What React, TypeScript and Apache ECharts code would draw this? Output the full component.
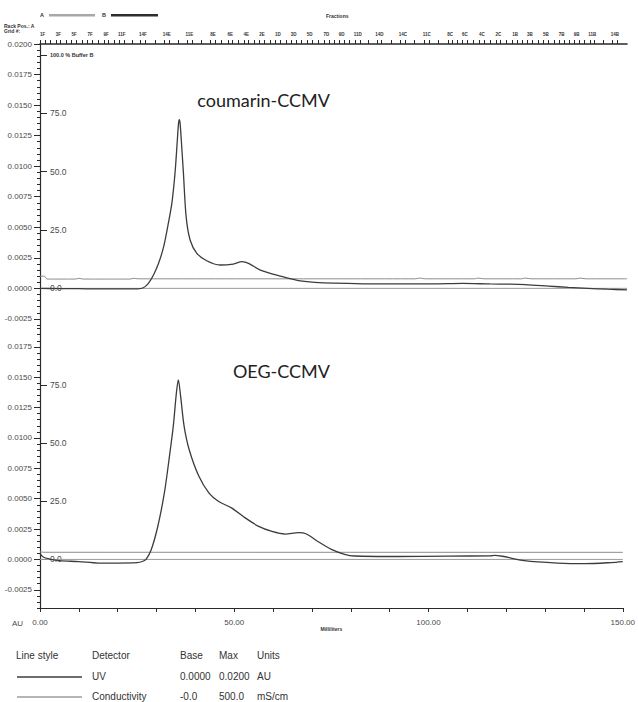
import React, { useEffect, useRef } from "react";
import * as echarts from "echarts";

// ---------- data ----------
const mlLabelValues = [0, 50, 100, 150];
const auTicksTop = [-0.0025, 0, 0.0025, 0.005, 0.0075, 0.01, 0.0125, 0.015, 0.0175, 0.02];
const auTicksBottom = [-0.0025, 0, 0.0025, 0.005, 0.0075, 0.01, 0.0125, 0.015, 0.0175];
const bufferTicksTop = [0, 25, 50, 75, 100];
const bufferTicksBottom = [0, 25, 50, 75];

const fractionNames = [
  "1F", "3F", "5F", "7F", "9F", "11F", "14F", "14E", "11E", "8E", "6E", "4E", "2E", "1D", "3D", "5D",
  "7D", "9D", "11D", "14D", "14C", "11C", "8C", "6C", "4C", "2C", "1B", "3B", "5B", "7B", "9B", "11B", "14B",
];
const fractionPos = [
  0.7, 4.7, 8.7, 12.8, 16.9, 20.9, 26.3, 32.4, 38.2, 44.2, 48.6, 52.7, 56.7, 60.8, 64.8, 68.9,
  73.2, 77.1, 81.2, 86.7, 92.7, 98.8, 104.8, 108.6, 112.9, 117.1, 121.4, 125.2, 129.3, 133.3, 137.1, 141.1, 146.9,
];

// coumarin-CCMV: UV (AU) vs Milliliters
const topUV = [
  [0, 0.0], [5, -0.00002], [10, -0.00003], [15, -0.00005], [20, -0.00005], [25, -0.00004],
  [26.4, 0.00005], [27.7, 0.00041], [29.0, 0.00109], [30.3, 0.00205], [31.6, 0.00341], [32.8, 0.00533],
  [33.7, 0.00697], [34.5, 0.00943], [35.1, 0.01216], [35.4, 0.0135], [35.6, 0.0138], [35.8, 0.0135],
  [36.1, 0.01216], [36.65, 0.00943], [37.34, 0.00587], [38.36, 0.00396], [40.07, 0.00287], [42.6, 0.00226],
  [46.0, 0.00191], [49.4, 0.00199], [51.6, 0.00218], [53.3, 0.00205], [56.3, 0.0015], [61.4, 0.00101],
  [66.5, 0.00062], [75, 0.00043], [92, 0.00036], [100, 0.00036], [108, 0.0004], [115, 0.00036],
  [120, 0.00034], [124, 0.0003], [130, 0.00018], [135, 0.00008], [140, 0.0], [145, -0.00007], [150, -0.00012],
];
// coumarin-CCMV: conductivity (mS/cm)
const topCond = [
  [0, 25], [1.2, 24.5], [1.8, 19], [9, 19], [10, 20.5], [11, 19], [23, 19], [24, 20.5], [25, 19.5],
  [40, 19.5], [60, 19.5], [80, 19.5], [96, 19.5], [97, 21], [98.5, 19.5], [111, 19.5], [112, 21],
  [113.5, 19.5], [123, 19.5], [124, 21], [125.5, 19.5], [137, 19.5], [138, 21], [139.5, 19.5], [150, 19.5],
];
// OEG-CCMV: UV (AU)
const bottomUV = [
  [0, 0.0005], [0.8, 0.0002], [2.5, 0.00003], [5, -0.0001], [10, -0.00018], [15, -0.0003], [20, -0.0003],
  [25, -0.00027], [26.5, -0.00015], [27.3, 0.0], [28.6, 0.00077], [30.3, 0.00269], [32.0, 0.00545],
  [33.2, 0.0082], [34.3, 0.01095], [35.1, 0.01369], [35.6, 0.01479], [36.2, 0.01342], [37.1, 0.01095],
  [38.4, 0.00903], [40.9, 0.00684], [43.5, 0.00546], [46.0, 0.00477], [49.4, 0.00422], [52.9, 0.0034],
  [56.3, 0.00272], [59.7, 0.0023], [63.1, 0.00209], [66.5, 0.0022], [68.6, 0.00209], [71.6, 0.00146],
  [75.0, 0.00083], [78.4, 0.00042], [81.0, 0.00028], [92, 0.00024], [105, 0.00027], [116, 0.0003],
  [117, 0.00034], [119, 0.00026], [124.7, -0.0001], [133.2, -0.0003], [140.2, -0.00035], [147, -0.00026],
  [150, -0.00018],
];
// OEG-CCMV: conductivity (mS/cm)
const bottomCond = [[0, 15.5], [1, 14.7], [150, 14.6]];
// % Buffer B (both runs)
const bufferB = [[0, 0], [150, 0]];

// ---------- scale settings ----------
const TOP_AU = [-0.003, 0.02];
const BOT_AU = [-0.004, 0.0193];
const AU_PER_PCT = 0.0191 / 100;
const AU_PER_MS = 0.02 / 500;

function steps(min: number, max: number, step: number) {
  const out: number[] = [];
  const n0 = Math.ceil(min / step - 1e-9);
  const n1 = Math.floor(max / step + 1e-9);
  for (let i = n0; i <= n1; i++) out.push(+(i * step).toFixed(6));
  return out;
}

const fractionTicks: number[] = [];
fractionPos.forEach((p, i) => {
  fractionTicks.push(+(p - 0.6).toFixed(2), +(p + 0.6).toFixed(2));
  if (i < fractionPos.length - 1) fractionTicks.push(+((p + fractionPos[i + 1]) / 2).toFixed(2));
});

const FONT = "Liberation Sans, Arial, sans-serif";
const AXIS_COLOR = "#2a2a2a";
const LABEL_COLOR = "#4a4a4a";

function auAxes(grid: number, range: number[], ticks: number[]) {
  return [
    {
      type: "value", gridIndex: grid, position: "left", min: range[0], max: range[1],
      axisLine: { show: true, onZero: false, lineStyle: { color: AXIS_COLOR, width: 1.2 } },
      axisTick: { show: true, customValues: ticks, length: 6, lineStyle: { color: AXIS_COLOR } },
      axisLabel: {
        customValues: ticks, margin: 8, fontSize: 8, color: LABEL_COLOR, fontFamily: FONT,
        formatter: (v: number) => v.toFixed(4),
      },
      splitLine: { show: false },
    },
    {
      type: "value", gridIndex: grid, position: "left", min: range[0], max: range[1],
      axisLine: { show: false, onZero: false },
      axisTick: { show: true, customValues: steps(range[0], range[1], 0.0005), length: 3, lineStyle: { color: AXIS_COLOR } },
      axisLabel: { show: false },
      splitLine: { show: false },
    },
  ];
}

function pctAxis(grid: number, range: number[], ticks: number[]) {
  return {
    type: "value", gridIndex: grid, position: "left",
    min: range[0] / AU_PER_PCT, max: range[1] / AU_PER_PCT,
    axisLine: { show: false, onZero: false },
    axisTick: { show: true, inside: true, customValues: ticks, length: 7, lineStyle: { color: AXIS_COLOR } },
    axisLabel: {
      inside: true, customValues: ticks, margin: 10, fontSize: 8.5, color: LABEL_COLOR, fontFamily: FONT,
      formatter: (v: number) => (v >= 100 ? "{s|" + v.toFixed(1) + " % Buffer B}" : v.toFixed(1)),
      rich: { s: { fontSize: 5.5, fontWeight: "bold", color: "#333", fontFamily: FONT } },
    },
    splitLine: { show: false },
  };
}

function condAxis(grid: number, range: number[]) {
  return {
    type: "value", gridIndex: grid, show: false,
    min: range[0] / AU_PER_MS, max: range[1] / AU_PER_MS,
    splitLine: { show: false },
  };
}

function txt(text: string, x: number, y: number, size: number, extra: any = {}) {
  return {
    type: "text", x, y, silent: true,
    style: { text, fontSize: size, fill: "#333", fontFamily: FONT, verticalAlign: "middle", align: "left", ...extra },
  };
}

export default function App() {
  const ref = useRef<HTMLDivElement>(null);
  useEffect(() => {
    if (!ref.current) return;
    const chart = echarts.init(ref.current, null, { renderer: "svg" });
    const nearestFraction = (v: number) => {
      let best = 0;
      fractionPos.forEach((p, i) => { if (Math.abs(p - v) < Math.abs(fractionPos[best] - v)) best = i; });
      return fractionNames[best];
    };
    const uvStyle = { color: "#3c3c3c", width: 1.3 };
    const condStyle = { color: "#8c8c8c", width: 1 };
    const bufStyle = { color: "#9a9a9a", width: 1 };
    chart.setOption({
      animation: false,
      backgroundColor: "#ffffff",
      textStyle: { fontFamily: FONT },
      title: [
        { text: "coumarin-CCMV", right: 308, top: 91, padding: 0, textStyle: { fontSize: 18, fontWeight: "normal", fontFamily: "Lato", color: "#222" } },
        { text: "OEG-CCMV", right: 308, top: 362, padding: 0, textStyle: { fontSize: 18, fontWeight: "normal", fontFamily: "Lato", color: "#222" } },
      ],
      grid: [
        { left: 40, top: 44, width: 587, height: 281 },
        { left: 40, top: 325, width: 587, height: 283 },
      ],
      xAxis: [
        {
          type: "value", gridIndex: 0, position: "top", min: 0, max: 150,
          axisLine: { show: true, onZero: false, lineStyle: { color: AXIS_COLOR, width: 1.6 } },
          axisTick: { show: true, customValues: fractionTicks, length: 4, lineStyle: { color: AXIS_COLOR } },
          axisLabel: {
            customValues: fractionPos, margin: 7, fontSize: 4.5, fontWeight: "bold", color: "#333",
            formatter: (v: number) => nearestFraction(v),
          },
          splitLine: { show: false },
        },
        {
          type: "value", gridIndex: 1, position: "bottom", min: 0, max: 150, interval: 10,
          axisLine: { show: true, onZero: false, lineStyle: { color: AXIS_COLOR, width: 1.2 } },
          axisTick: { show: true, length: 4, lineStyle: { color: AXIS_COLOR } },
          axisLabel: {
            customValues: mlLabelValues, margin: 10, fontSize: 8, color: LABEL_COLOR,
            formatter: (v: number) => v.toFixed(2),
          },
          name: "Milliliters", nameLocation: "middle", nameGap: 16,
          nameTextStyle: { fontSize: 5, fontWeight: "bold", color: "#333" },
          splitLine: { show: false },
        },
      ],
      yAxis: [
        ...auAxes(0, TOP_AU, auTicksTop),
        pctAxis(0, TOP_AU, bufferTicksTop),
        condAxis(0, TOP_AU),
        ...auAxes(1, BOT_AU, auTicksBottom),
        pctAxis(1, BOT_AU, bufferTicksBottom),
        condAxis(1, BOT_AU),
      ],
      series: [
        { type: "line", name: "Buffer B top", xAxisIndex: 0, yAxisIndex: 2, data: bufferB, showSymbol: false, lineStyle: bufStyle, z: 1 },
        { type: "line", name: "Conductivity top", xAxisIndex: 0, yAxisIndex: 3, data: topCond, showSymbol: false, smooth: 0.3, lineStyle: condStyle, z: 2 },
        { type: "line", name: "UV top", xAxisIndex: 0, yAxisIndex: 0, data: topUV, showSymbol: false, smooth: 0.3, lineStyle: uvStyle, z: 3 },
        { type: "line", name: "Buffer B bottom", xAxisIndex: 1, yAxisIndex: 6, data: bufferB, showSymbol: false, lineStyle: bufStyle, z: 1 },
        { type: "line", name: "Conductivity bottom", xAxisIndex: 1, yAxisIndex: 7, data: bottomCond, showSymbol: false, lineStyle: condStyle, z: 2 },
        { type: "line", name: "UV bottom", xAxisIndex: 1, yAxisIndex: 4, data: bottomUV, showSymbol: false, smooth: 0.3, lineStyle: uvStyle, z: 3 },
      ],
      graphic: [
        // header
        txt("A", 40, 15, 5.5, { fontWeight: "bold" }),
        { type: "rect", shape: { x: 49, y: 14, width: 46, height: 2.5 }, style: { fill: "#a8a8a8" }, silent: true },
        txt("B", 102, 15, 5.5, { fontWeight: "bold" }),
        { type: "rect", shape: { x: 111, y: 14, width: 47, height: 2.5 }, style: { fill: "#2e2e2e" }, silent: true },
        txt("Fractions", 326, 16, 5, { fontWeight: "bold" }),
        txt("Rack Pos.: A", 4, 26, 5, { fontWeight: "bold" }),
        txt("Grid #:", 4, 31, 5, { fontWeight: "bold" }),
        // axis unit
        txt("AU", 12, 623, 8, { fill: LABEL_COLOR }),
        // legend table
        txt("Line style", 16, 655, 10),
        txt("Detector", 92, 655, 10),
        txt("Base", 180, 655, 10),
        txt("Max", 219, 655, 10),
        txt("Units", 257, 655, 10),
        { type: "line", shape: { x1: 17, y1: 677, x2: 82, y2: 677 }, style: { stroke: "#3c3c3c", lineWidth: 1.3 }, silent: true },
        txt("UV", 92, 676, 10),
        txt("0.0000", 180, 676, 10),
        txt("0.0200", 219, 676, 10),
        txt("AU", 257, 676, 10),
        { type: "line", shape: { x1: 17, y1: 697, x2: 82, y2: 697 }, style: { stroke: "#6c6c6c", lineWidth: 1 }, silent: true },
        txt("Conductivity", 92, 696, 10),
        txt("-0.0", 180, 696, 10),
        txt("500.0", 219, 696, 10),
        txt("mS/cm", 257, 696, 10),
      ],
    });
    return () => chart.dispose();
  }, []);
  return <div ref={ref} style={{ position: "absolute", left: 0, top: 0, width: 638, height: 702 }} />;
}
